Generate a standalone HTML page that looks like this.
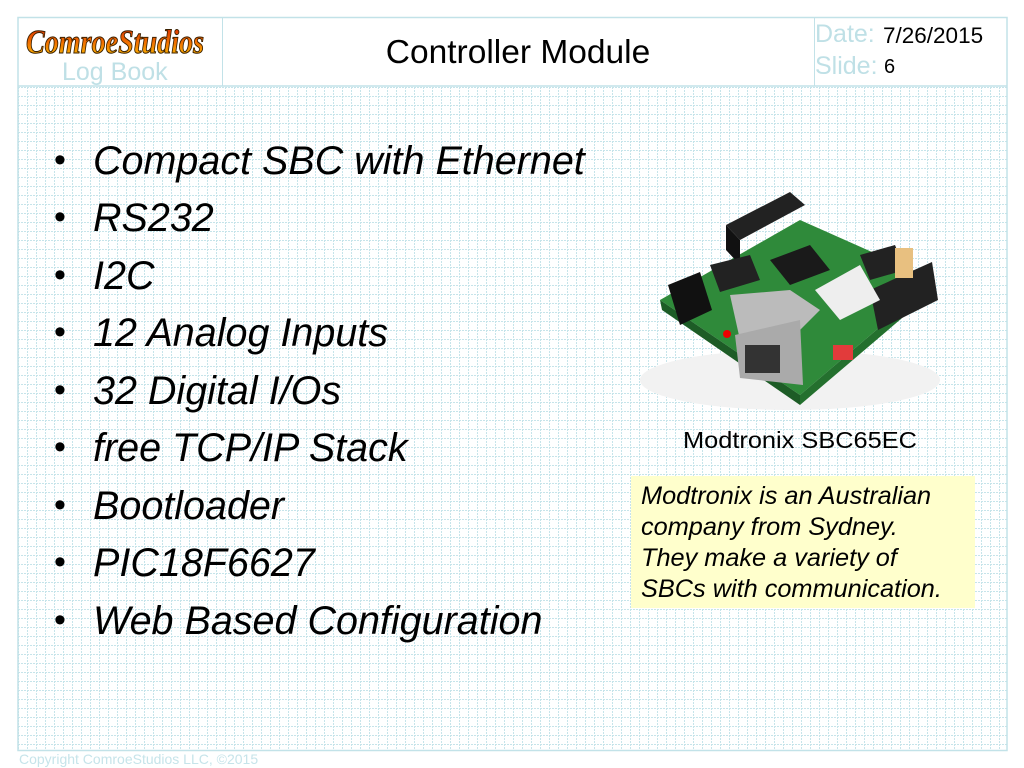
<!DOCTYPE html>
<html><head><meta charset="utf-8"><style>
body{margin:0;width:1024px;height:768px;background:#fff;position:relative;overflow:hidden;font-family:"Liberation Sans",sans-serif}
.abs{position:absolute}
.b{position:absolute;left:54px;font-size:39.5px;font-style:italic;color:#000;white-space:nowrap}
.b:before{content:"•";position:absolute;left:0;font-style:normal;font-size:34px;top:2px}
.b span{position:absolute;left:39px}
</style></head><body>
<svg class="abs" style="left:0;top:0" width="1024" height="768">
<defs>
<pattern id="g" x="18" y="87" width="9" height="9" patternUnits="userSpaceOnUse">
<line x1="0" y1="0.5" x2="9" y2="0.5" stroke="#c6e4ea" stroke-width="1" stroke-dasharray="2,1"/>
<line x1="0.5" y1="0" x2="0.5" y2="9" stroke="#c6e4ea" stroke-width="1" stroke-dasharray="2,1"/>
</pattern>
<linearGradient id="logo" x1="0" y1="0" x2="0" y2="1"><stop offset="0" stop-color="#d42000"/><stop offset="0.5" stop-color="#f07000"/><stop offset="1" stop-color="#ffd000"/></linearGradient>
</defs>
<rect x="18" y="87" width="989" height="663" fill="url(#g)"/>
<rect x="18" y="17.5" width="989" height="733" fill="none" stroke="#c2e2e8" stroke-width="1.5"/>
<line x1="18" y1="86" x2="1007" y2="86" stroke="#c2e2e8" stroke-width="1.5"/>
<line x1="222.5" y1="17" x2="222.5" y2="86" stroke="#c2e2e8"/>
<line x1="814.5" y1="17" x2="814.5" y2="86" stroke="#c2e2e8"/>
<text x="26" y="53" font-family="Liberation Serif,serif" font-weight="bold" font-style="italic" font-size="34" fill="url(#logo)" stroke="#3a2000" stroke-width="1" textLength="178" lengthAdjust="spacingAndGlyphs">ComroeStudios</text>
<g>
<ellipse cx="790" cy="380" rx="150" ry="30" fill="#f2f2f2"/>
<polygon points="660,300 800,220 935,280 800,395" fill="#2f8a3a"/>
<polygon points="660,300 800,395 800,405 662,310" fill="#1d5c26"/>
<polygon points="800,395 935,280 935,290 800,405" fill="#24702e"/>
<polygon points="726,225 790,192 805,205 740,240" fill="#222"/>
<polygon points="726,225 740,240 740,265 726,250" fill="#111"/>
<polygon points="870,290 932,262 938,300 878,330" fill="#222"/>
<polygon points="770,260 810,245 830,270 790,285" fill="#1a1a1a"/>
<polygon points="815,290 860,265 880,300 840,320" fill="#eee"/>
<polygon points="860,255 895,245 905,270 870,280" fill="#222"/>
<rect x="895" y="248" width="18" height="30" fill="#e8c080"/>
<polygon points="668,285 700,272 712,310 680,325" fill="#111"/>
<polygon points="730,295 790,290 820,310 800,330 740,340" fill="#bbb"/>
<polygon points="735,335 800,320 803,385 740,378" fill="#aaa"/>
<rect x="745" y="345" width="35" height="28" fill="#333"/>
<rect x="833" y="345" width="20" height="15" fill="#e23b3b"/>
<circle cx="727" cy="334" r="4" fill="#e00"/>
<polygon points="710,265 750,255 760,280 720,292" fill="#222"/>
</g>
<text x="800" y="448" font-size="23" text-anchor="middle" fill="#000" textLength="234" lengthAdjust="spacingAndGlyphs">Modtronix SBC65EC</text>
<rect x="631" y="476" width="344" height="132" fill="#ffffcc"/>
</svg>
<div class="abs" style="left:222px;top:34px;width:592px;text-align:center;font-size:33.5px">Controller Module</div>
<div class="abs" style="left:62px;top:58px;font-size:25px;color:#bfe0e6">Log Book</div>
<div class="abs" style="left:815px;top:20px;font-size:25px;color:#bfe0e6">Date:</div>
<div class="abs" style="left:883px;top:23px;font-size:22.5px">7/26/2015</div>
<div class="abs" style="left:815px;top:52px;font-size:25px;color:#bfe0e6">Slide:</div>
<div class="abs" style="left:884px;top:56px;font-size:20px">6</div>
<div class="b" style="top:139px"><span>Compact SBC with Ethernet</span></div>
<div class="b" style="top:196px"><span>RS232</span></div>
<div class="b" style="top:254px"><span>I2C</span></div>
<div class="b" style="top:311px"><span>12 Analog Inputs</span></div>
<div class="b" style="top:369px"><span>32 Digital I/Os</span></div>
<div class="b" style="top:426px"><span>free TCP/IP Stack</span></div>
<div class="b" style="top:484px"><span>Bootloader</span></div>
<div class="b" style="top:541px"><span>PIC18F6627</span></div>
<div class="b" style="top:599px"><span>Web Based Configuration</span></div>
<div class="abs" style="left:641px;top:481px;font-size:25.3px;font-style:italic;line-height:31px;white-space:nowrap">Modtronix is an Australian<br>company from Sydney.<br>They make a variety of<br>SBCs with communication.</div>
<div class="abs" style="left:19px;top:751px;font-size:14px;color:#c6e4ea">Copyright ComroeStudios LLC, ©2015</div>
</body></html>
